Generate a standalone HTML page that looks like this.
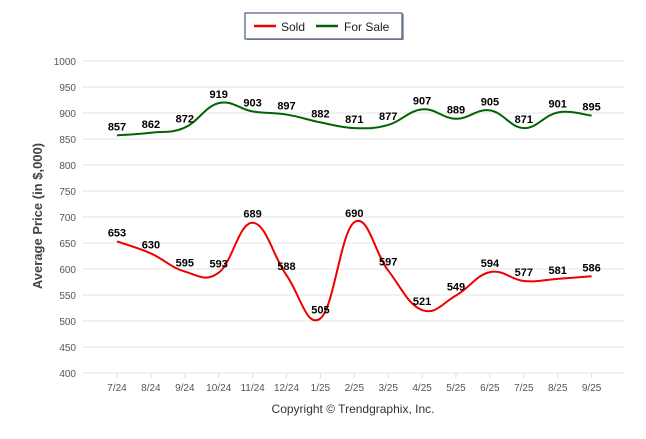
<!DOCTYPE html>
<html><head><meta charset="utf-8"><style>
body{margin:0;background:#fff;font-family:"Liberation Sans",Arial,sans-serif}
</style></head><body>
<svg id="chart" width="646" height="434" xmlns="http://www.w3.org/2000/svg">
<g>
<rect x="247" y="14" width="157" height="26" fill="#555" opacity="0.5"/>
<rect x="245" y="13" width="157" height="26" fill="#fff" stroke="#1f3864" stroke-width="1"/>
<line x1="254" y1="26" x2="276" y2="26" stroke="#e00" stroke-width="2.5"/>
<text x="281" y="31" font-size="12" fill="#222">Sold</text>
<line x1="316" y1="26" x2="338" y2="26" stroke="#006400" stroke-width="2.5"/>
<text x="344" y="31" font-size="12" fill="#222">For Sale</text>
</g>
<g id="grid"></g>
<g id="series"></g>
<g id="labels"></g>
<text transform="translate(42,216) rotate(-90)" text-anchor="middle" font-size="13" font-weight="bold" fill="#444">Average Price (in $,000)</text>
<text x="353" y="413" text-anchor="middle" font-size="12" fill="#333">Copyright © Trendgraphix, Inc.</text>
</svg>
<script>
const categories=["7/24","8/24","9/24","10/24","11/24","12/24","1/25","2/25","3/25","4/25","5/25","6/25","7/25","8/25","9/25"];
const sold=[653,630,595,593,689,588,505,690,597,521,549,594,577,581,586];
const forSale=[857,862,872,919,903,897,882,871,877,907,889,905,871,901,895];
const yTicks=[400,450,500,550,600,650,700,750,800,850,900,950,1000];
const NS="http://www.w3.org/2000/svg";
const x0=117,dx=33.9,yTop=61,yBot=373,vMin=400,vMax=1000;
const X=i=>x0+i*dx;
const Y=v=>yBot-(v-vMin)/(vMax-vMin)*(yBot-yTop);
function mk(t,a,p){const e=document.createElementNS(NS,t);for(const k in a)e.setAttribute(k,a[k]);p.appendChild(e);return e;}
const grid=document.getElementById('grid');
yTicks.forEach(v=>{
 const l=mk('line',{x1:82,x2:625,y1:Y(v),y2:Y(v),stroke:'#e6e6e6','stroke-width':1},grid);
 
 
 const t=mk('text',{x:76,y:Y(v)+4,'text-anchor':'end','font-size':10,fill:'#555'},grid);
 t.textContent=v;
 
 
});
categories.forEach((c,i)=>{
 const tk=mk('line',{x1:X(i),x2:X(i),y1:yBot,y2:yBot+5,stroke:'#ddd'},grid);
 
 
 const t=mk('text',{x:X(i),y:391,'text-anchor':'middle','font-size':10,fill:'#555'},grid);
 t.textContent=c;
 
 
});
function path(vals){
 const p=vals.map((v,i)=>[X(i),Y(v)]);
 let d='M'+p[0][0]+','+p[0][1];const k=0.2;
 for(let i=0;i<p.length-1;i++){
  const a=p[i-1]||p[i],b=p[i],c=p[i+1],e=p[i+2]||c;
  d+=' C'+(b[0]+(c[0]-a[0])*k)+','+(b[1]+(c[1]-a[1])*k)+' '+(c[0]-(e[0]-b[0])*k)+','+(c[1]-(e[1]-b[1])*k)+' '+c[0]+','+c[1];
 }
 return d;
}
const sg=document.getElementById('series'),lg=document.getElementById('labels');
[[forSale,'#006400','for-sale'],[sold,'#e00','sold']].forEach(([vals,col,nm])=>{
 const pth=mk('path',{d:path(vals),fill:'none',stroke:col,'stroke-width':2},sg);
 
 
 vals.forEach((v,i)=>{
  const t=mk('text',{x:X(i),y:Y(v)-5,'text-anchor':'middle','font-size':11,'font-weight':'bold',fill:'#000'},lg);
  t.textContent=v;
  
  
 });
});
</script>
</body></html>
